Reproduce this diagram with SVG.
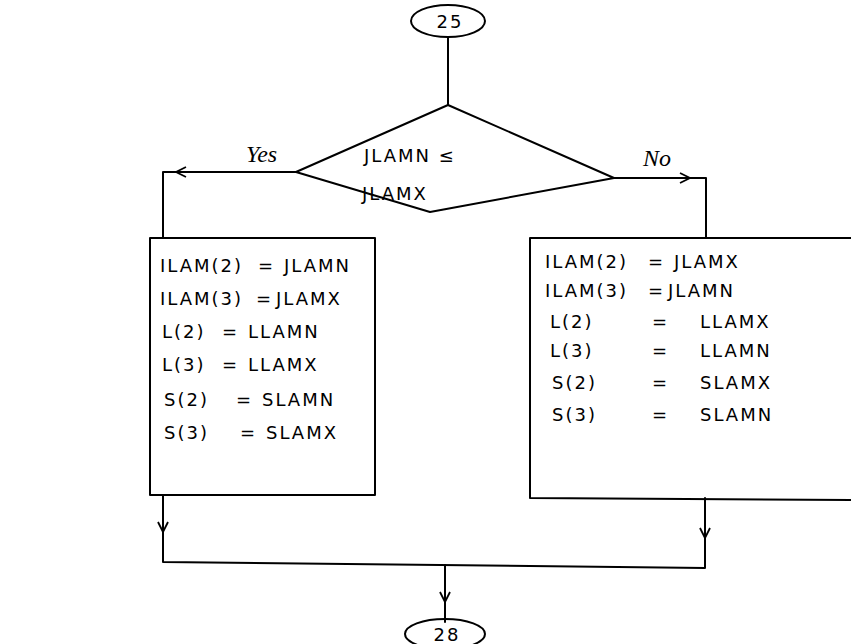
<svg xmlns="http://www.w3.org/2000/svg" width="851" height="644" viewBox="0 0 851 644">
<defs>
<style>
.ln{fill:none;stroke:#000;stroke-width:2;stroke-linejoin:round;stroke-linecap:round}
.t{font-family:"DejaVu Sans","Liberation Sans",sans-serif;font-size:18px;letter-spacing:2px;fill:#000}
.h{font-family:"Liberation Serif",serif;font-style:italic;font-size:24px;fill:#000}
</style>
<marker id="chev" viewBox="0 0 12 12" refX="11" refY="6" markerWidth="12" markerHeight="12" markerUnits="userSpaceOnUse" orient="auto">
<path d="M1,1 L11,6 L1,11" fill="none" stroke="#000" stroke-width="1.8"/>
</marker>
</defs>
<rect width="851" height="644" fill="#fff"/>
<g id="connectors">
<path class="ln" d="M448,38 L448,105"/>
<path class="ln" d="M296,172 L176,172" marker-end="url(#chev)"/>
<path class="ln" d="M176,172 L163,172 L163,238"/>
<path class="ln" d="M614,178 L690,178" marker-end="url(#chev)"/>
<path class="ln" d="M690,178 L706,178 L706,238"/>
<path class="ln" d="M163,495 L163,532" marker-end="url(#chev)"/>
<path class="ln" d="M163,532 L163,562 L705,568 L705,538"/>
<path class="ln" d="M705,498 L705,538" marker-end="url(#chev)"/>
<path class="ln" d="M445,565 L445,602" marker-end="url(#chev)"/>
<path class="ln" d="M445,602 L445,622"/>
<text class="h" x="246" y="162">Yes</text>
<text class="h" x="643" y="166">No</text>
</g>
<g id="n25">
<ellipse class="ln" cx="448" cy="21" rx="37" ry="16"/>
<text class="t" x="450" y="28" text-anchor="middle">25</text>
</g>
<g id="decision">
<path class="ln" d="M448,105 L614,178 L430,212 L296,172 Z"/>
<text class="t" x="364" y="162">JLAMN ≤</text>
<text class="t" x="362" y="200">JLAMX</text>
</g>
<g id="yesbox">
<rect class="ln" x="150" y="238" width="225" height="257"/>
<text class="t" x="160" y="272">ILAM(2)</text><text class="t" x="258" y="272">=</text><text class="t" x="284" y="272">JLAMN</text>
<text class="t" x="160" y="305">ILAM(3)</text><text class="t" x="256" y="305">=</text><text class="t" x="276" y="305">JLAMX</text>
<text class="t" x="162" y="338">L(2)</text><text class="t" x="222" y="338">=</text><text class="t" x="248" y="338">LLAMN</text>
<text class="t" x="162" y="371">L(3)</text><text class="t" x="222" y="371">=</text><text class="t" x="248" y="371">LLAMX</text>
<text class="t" x="164" y="406">S(2)</text><text class="t" x="236" y="406">=</text><text class="t" x="262" y="406">SLAMN</text>
<text class="t" x="164" y="439">S(3)</text><text class="t" x="240" y="439">=</text><text class="t" x="266" y="439">SLAMX</text>
</g>
<g id="nobox">
<path class="ln" d="M530,498 L530,238 L851,238 M530,498 L851,500"/>
<text class="t" x="545" y="268">ILAM(2)</text><text class="t" x="648" y="268">=</text><text class="t" x="674" y="268">JLAMX</text>
<text class="t" x="545" y="297">ILAM(3)</text><text class="t" x="648" y="297">=</text><text class="t" x="668" y="297">JLAMN</text>
<text class="t" x="550" y="328">L(2)</text><text class="t" x="652" y="328">=</text><text class="t" x="700" y="328">LLAMX</text>
<text class="t" x="550" y="357">L(3)</text><text class="t" x="652" y="357">=</text><text class="t" x="700" y="357">LLAMN</text>
<text class="t" x="552" y="389">S(2)</text><text class="t" x="652" y="389">=</text><text class="t" x="700" y="389">SLAMX</text>
<text class="t" x="552" y="421">S(3)</text><text class="t" x="652" y="421">=</text><text class="t" x="700" y="421">SLAMN</text>
</g>
<g id="n28">
<ellipse class="ln" cx="445" cy="634" rx="40" ry="15"/>
<text class="t" x="447" y="641" text-anchor="middle">28</text>
</g>
</svg>
